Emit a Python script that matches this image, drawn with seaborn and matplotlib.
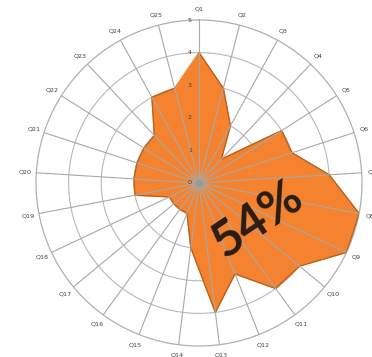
import numpy as np
import pandas as pd
import matplotlib
matplotlib.use("Agg")
import matplotlib.pyplot as plt
import seaborn as sns

# Survey questions and their scores (0-5 scale)
questions = [f"Q{i}" for i in range(1, 26)]
scores = [4, 3, 2, 1, 3, 3, 4, 5, 5, 4, 4, 3, 4, 2, 1, 1, 1, 1, 2, 2, 2, 2, 2, 3, 3]
radial_ticks = [0, 1, 2, 3, 4, 5]
max_score = 5
summary_label = f"{round(100 * sum(scores) / (max_score * len(scores)))}%"

sns.set_style("white")
plt.rcParams["font.family"] = ["DejaVu Sans"]

n = len(questions)
angles = np.linspace(0, 2 * np.pi, n, endpoint=False)
df = pd.DataFrame({
    "angle": np.append(angles, angles[0]),
    "score": scores + [scores[0]],
})

fig = plt.figure(figsize=(3.72, 3.57), dpi=100)
ax = fig.add_axes([0.0968, 0.0308, 0.8763, 0.9132], projection="polar")
ax.set_theta_zero_location("N")
ax.set_theta_direction(-1)
ax.set_ylim(0, max_score)
ax.grid(False)
ax.set_xticks([])
ax.set_yticks([])
ax.spines["polar"].set_color("#b0b0b0")
ax.spines["polar"].set_linewidth(0.9)

# concentric rings below the filled area
ring_t = np.linspace(0, 2 * np.pi, 400)
for r in radial_ticks[1:-1]:
    ax.plot(ring_t, np.full_like(ring_t, r), color="#b8b8b8", lw=0.8, zorder=1)

# filled score polygon with a darker outline
ax.fill(df["angle"], df["score"], color="#f5822f", zorder=2)
sns.lineplot(data=df, x="angle", y="score", sort=False, ax=ax,
             color="#b2621f", lw=0.9, zorder=3)
ax.set_xlabel("")
ax.set_ylabel("")

# spokes drawn over the fill
for a in angles:
    ax.plot([a, a], [0, max_score], color="#a8a8a8", lw=0.8, zorder=4)

# centre marker
ax.plot([0], [0], marker="o", ms=5, color="#9a9a9a", zorder=5)

# category labels around the outside
for a, q in zip(angles, questions):
    ax.text(a, 5.33, q, ha="center", va="center", fontsize=4.6,
            color="#454545", zorder=6, clip_on=False)

# radial tick labels along the first spoke
for r in radial_ticks:
    ax.annotate(str(r), xy=(0, r), xytext=(-6.5, 0), textcoords="offset points",
                ha="center", va="center", fontsize=4.6, color="#4a3a30",
                zorder=6, annotation_clip=False)

# overall percentage
fig.text(257.5 / 372, 1 - 219 / 357, summary_label, rotation=34,
         ha="center", va="center", fontsize=36, fontweight="bold",
         color="#2a1c14", family=["Lato", "DejaVu Sans"], zorder=10,
         rotation_mode="anchor")

fig.savefig("out.png", dpi=100)
